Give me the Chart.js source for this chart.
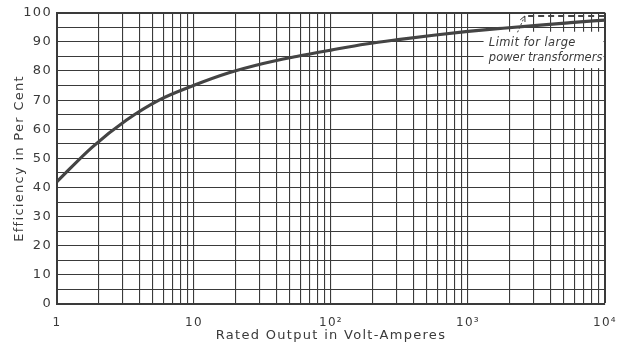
<!DOCTYPE html>
<html>
<head>
  <meta charset="utf-8">
  <title>Efficiency vs Rated Output</title>
  <script src="https://cdn.jsdelivr.net/npm/chart.js"></script>
  <style>
    * { margin: 0; padding: 0; box-sizing: border-box; }
    html, body { width: 627px; height: 343px; background: #fff; overflow: hidden; }
    #wrap { width: 627px; height: 343px; }
  </style>
</head>
<body>
  <div id="wrap"><canvas id="effChart"></canvas></div>
  <script>
    // efficiency curve (volt-amperes -> per cent), quarter-decade readings
    const outputVA = [1, 1.8, 3.2, 5.6, 10, 18, 32, 56, 100, 180, 320, 560, 1000, 1800, 3200, 5600, 10000];
    const efficiencyPct = [42, 53.8, 63.1, 70.1, 75.1, 79.4, 82.6, 85.0, 87.2, 89.3, 90.9, 92.3, 93.6, 94.7, 95.7, 96.6, 97.5];

    // dashed limit for large power transformers
    const limitVA = [2750, 10000];
    const limitPct = [98.9, 98.9];

    // axis labelling
    const decadeValues = [1, 10, 100, 1000, 10000];
    const decadeLabels = ['1', '10', '10²', '10³', '10⁴'];
    const noteLines = ['Limit for large', 'power transformers'];

    const ink = '#3a3a3a';

    // every 1..9 x 10^k line on the log axis
    const xGridValues = [];
    for (let d = 1; d < 10000; d *= 10) {
      for (let m = 1; m < 10; m++) xGridValues.push(m * d);
    }
    xGridValues.push(10000);

    const yGridValues = [];
    for (let v = 0; v <= 100; v += 5) yGridValues.push(v);

    const noteLabel = {
      id: 'noteLabel',
      beforeDraw(chart) {
        chart.ctx.letterSpacing = '1.3px';
      },
      beforeDatasetsDraw(chart) {
        const { ctx, chartArea, scales } = chart;
        const x0 = scales.x.getPixelForValue(1300);
        const y0 = scales.y.getPixelForValue(93.5);
        const y1 = scales.y.getPixelForValue(81);
        ctx.save();
        ctx.fillStyle = '#fff';
        ctx.fillRect(x0, y0, chartArea.right - 1.5 - x0, y1 - y0);
        ctx.restore();
      },
      afterDatasetsDraw(chart) {
        const { ctx, scales } = chart;
        const tx = scales.x.getPixelForValue(1420);
        const ty = scales.y.getPixelForValue(89.6);
        ctx.save();
        ctx.letterSpacing = '0.4px';
        ctx.fillStyle = ink;
        ctx.font = 'italic 11.5px "DejaVu Sans"';
        ctx.textBaseline = 'middle';
        ctx.fillText(noteLines[0], tx, ty);
        ctx.letterSpacing = '0px';
        ctx.fillText(noteLines[1], tx, ty + 15);

        // arrow from the note up to the limit line
        const ax = scales.x.getPixelForValue(2600);
        const ay = scales.y.getPixelForValue(limitPct[0]);
        const bx = scales.x.getPixelForValue(2300);
        const by = scales.y.getPixelForValue(93.3);
        ctx.strokeStyle = ink;
        ctx.lineWidth = 1;
        ctx.setLineDash([2, 2]);
        ctx.beginPath();
        ctx.moveTo(bx, by);
        ctx.lineTo(ax, ay);
        ctx.stroke();
        ctx.setLineDash([]);
        const ang = Math.atan2(ay - by, ax - bx);
        ctx.beginPath();
        ctx.moveTo(ax - 6 * Math.cos(ang - 0.45), ay - 6 * Math.sin(ang - 0.45));
        ctx.lineTo(ax, ay);
        ctx.lineTo(ax - 6 * Math.cos(ang + 0.45), ay - 6 * Math.sin(ang + 0.45));
        ctx.stroke();
        ctx.restore();
      }
    };

    const edgeWidth = (value, edge) => value === edge ? 2 : 1.1;

    new Chart(document.getElementById('effChart'), {
      type: 'line',
      data: {
        datasets: [
          {
            data: outputVA.map((v, i) => ({ x: v, y: efficiencyPct[i] })),
            borderColor: '#444',
            borderWidth: 3.2,
            pointRadius: 0,
            cubicInterpolationMode: 'monotone',
            fill: false
          },
          {
            data: limitVA.map((v, i) => ({ x: v, y: limitPct[i] })),
            borderColor: '#444',
            borderWidth: 1.8,
            borderDash: [6, 4],
            pointRadius: 0,
            fill: false
          }
        ]
      },
      options: {
        responsive: true,
        maintainAspectRatio: false,
        animation: false,
        layout: { padding: { top: 12, right: 15, left: 0, bottom: 0 } },
        plugins: {
          legend: { display: false },
          tooltip: { enabled: false }
        },
        scales: {
          x: {
            type: 'logarithmic',
            min: 1,
            max: 10000,
            afterBuildTicks: scale => {
              scale.ticks = xGridValues.map(v => ({ value: v }));
            },
            afterFit: scale => { scale.height = 39; },
            ticks: {
              autoSkip: false,
              maxRotation: 0,
              minRotation: 0,
              padding: 12,
              color: ink,
              font: { family: 'DejaVu Sans', size: 12 },
              callback: value => {
                const i = decadeValues.indexOf(value);
                return i >= 0 ? decadeLabels[i] : '';
              }
            },
            grid: {
              drawTicks: false,
              color: ink,
              lineWidth: ctx => edgeWidth(ctx.tick && ctx.tick.value, 10000)
            },
            border: { display: true, color: ink, width: 2 },
            title: {
              display: true,
              text: 'Rated Output in Volt-Amperes',
              color: ink,
              font: { family: 'DejaVu Sans', size: 13 },
              padding: { top: 1, bottom: 0 }
            }
          },
          y: {
            min: 0,
            max: 100,
            afterBuildTicks: scale => {
              scale.ticks = yGridValues.map(v => ({ value: v }));
            },
            afterFit: scale => { scale.width = 57; },
            ticks: {
              autoSkip: false,
              padding: 5,
              color: ink,
              font: { family: 'DejaVu Sans', size: 13 },
              callback: value => value % 10 === 0 ? String(value) : ''
            },
            grid: {
              drawTicks: false,
              color: ink,
              lineWidth: ctx => edgeWidth(ctx.tick && ctx.tick.value, 100)
            },
            border: { display: true, color: ink, width: 2 },
            title: {
              display: true,
              text: 'Efficiency in Per Cent',
              color: ink,
              font: { family: 'DejaVu Sans', size: 13 },
              padding: { top: 12, bottom: 0 }
            }
          }
        }
      },
      plugins: [noteLabel]
    });
  </script>
</body>
</html>
